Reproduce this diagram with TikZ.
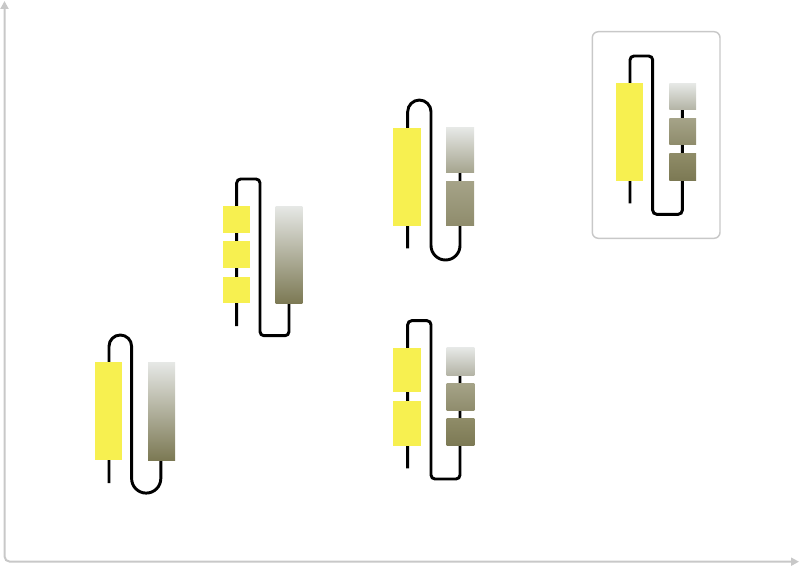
\documentclass[tikz,border=0pt]{standalone}
\usetikzlibrary{arrows.meta}
\definecolor{candle}{RGB}{247,240,80}
\definecolor{silver}{RGB}{230,232,230}
\definecolor{ashgrey}{RGB}{168,167,142}
\definecolor{olivedark}{RGB}{124,121,84}
\definecolor{axisgrey}{RGB}{200,200,200}

\begin{document}
\begin{tikzpicture}[x=0.75pt,y=-0.75pt,
  wire/.style={line width=2.2pt,black},
  bar/.style={fill=candle},
  tall/.style={top color=silver,middle color=ashgrey,bottom color=olivedark},
  light/.style={top color=silver,bottom color={rgb,255:red,180;green,180;blue,166}},
  mid/.style={top color={rgb,255:red,165;green,163;blue,136},bottom color={rgb,255:red,143;green,140;blue,108}},
  dark/.style={top color={rgb,255:red,143;green,140;blue,104},bottom color=olivedark},
  axis/.style={line width=1.5pt,axisgrey,rounded corners=4pt,
    {Triangle[length=6pt,width=6pt]}-{Triangle[length=6pt,width=6pt]}}
]
\useasboundingbox (0,0) rectangle (800,567);

% axes
\draw[axis] (4.5,1) -- (4.5,561.7) -- (799,561.7);

% group one
\draw[wire] (109,483) -- (109,346.3) arc[start angle=180,end angle=360,radius=11.3]
  -- (131.6,478.5) arc[start angle=180,end angle=0,radius=14.6] -- (160.8,440);
\fill[bar] (95,362) rectangle (121.7,460);
\shade[tall] (148,362) rectangle (175,460);

% group two
\draw[wire,rounded corners=3pt] (236.7,326) -- (236.7,179) -- (260,179)
  -- (260,335.7) -- (289,335.7) -- (289,290);
\fill[bar] (222.7,205.7) rectangle (250,232.7);
\fill[bar] (222.7,241) rectangle (250,268.3);
\fill[bar] (222.7,276.7) rectangle (250,303.3);
\shade[tall] (275.7,206) rectangle (302.3,303.3);

% group three
\draw[wire] (407.7,248.3) -- (407.7,111.7) arc[start angle=180,end angle=360,radius=11.65]
  -- (431,245.5) arc[start angle=180,end angle=0,radius=14.5] -- (460,150);
\fill[bar] (393.3,127.7) rectangle (421,225.7);
\shade[top color=silver,bottom color={rgb,255:red,165;green,164;blue,142}] (446,127.7) rectangle (474,172.7);
\shade[mid] (446,181) rectangle (474,225.7);

% group four
\draw[wire,rounded corners=3pt] (407.7,468.3) -- (407.7,320.7) -- (431,320.7)
  -- (431,479) -- (460,479) -- (460,360);
\fill[bar] (393.3,347.7) rectangle (421,392.3);
\fill[bar] (393.3,400.7) rectangle (421,445.7);
\shade[light] (446.7,347.7) rectangle (474.3,375);
\shade[mid] (446.7,383.3) rectangle (474.3,410.7);
\shade[dark] (446.7,418.3) rectangle (474.3,445.7);

% group five, framed
\draw[axisgrey,line width=1.1pt,rounded corners=4.5pt] (592.3,31.7) rectangle (720,238.3);
\draw[wire,rounded corners=3pt] (630,203.3) -- (630,56) -- (652.7,56)
  -- (652.7,214.3) -- (682.3,214.3) -- (682.3,95);
\fill[bar] (616,82.7) rectangle (643.3,181);
\shade[light] (669.3,83.3) rectangle (696,109.3);
\shade[mid] (669.3,118.3) rectangle (696,144.3);
\shade[dark] (669.3,153.3) rectangle (696,180);
\end{tikzpicture}
\end{document}
